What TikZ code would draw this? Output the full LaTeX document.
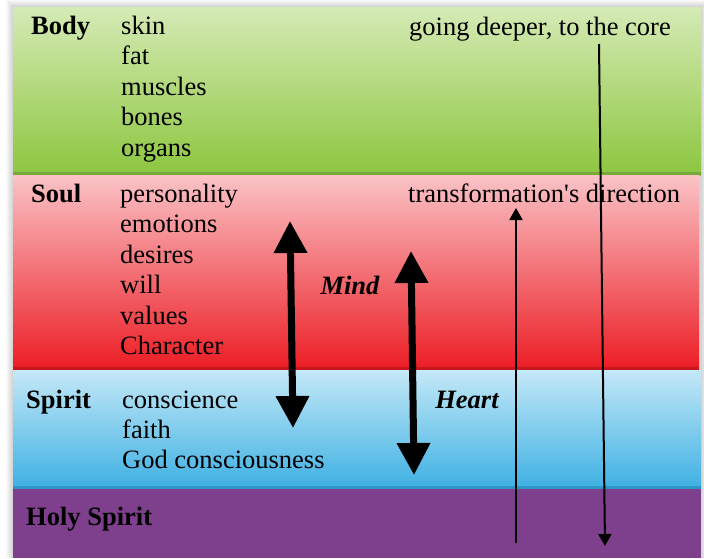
\documentclass[tikz,border=0pt]{standalone}
\usepackage{fontspec}
\setmainfont{Liberation Serif}
\usetikzlibrary{arrows.meta}
\definecolor{gtop}{HTML}{D5EAB5}
\definecolor{gbot}{HTML}{8CC63F}
\definecolor{gedge}{HTML}{78A83A}
\definecolor{rtop}{HTML}{FAC3C6}
\definecolor{rbot}{HTML}{EC1C24}
\definecolor{redge}{HTML}{C8161E}
\definecolor{btop}{HTML}{C4E8F7}
\definecolor{bbot}{HTML}{3DB0E3}
\definecolor{bedge}{HTML}{2E96C5}
\definecolor{purp}{HTML}{7E3F8C}
\tikzset{
  txt/.style={anchor=base west, inner sep=0pt, font=\fontsize{26.5}{30}\selectfont},
  lbl/.style={txt, font=\fontsize{26.5}{30}\selectfont\bfseries},
  capword/.style={inner sep=0pt, font=\fontsize{26.5}{30}\selectfont\bfseries\itshape},
  bigarrow/.style={line width=7pt, {Triangle[width=32pt,length=32pt]}-{Triangle[width=32pt,length=32pt]}},
  thinarrow/.style={line width=2pt, -{Triangle[width=13pt,length=12pt]}}
}
\begin{document}
\begin{tikzpicture}[x=1pt,y=-1pt]
\useasboundingbox (0,0) rectangle (704,558);
\fill[white] (0,0) rectangle (704,558);
% soft shadow
\foreach \i in {1,...,7}{
  \fill[black, opacity=0.025] (13-\i,7-\i) rectangle (701+\i,558);
}
% bands
\shade[top color=gtop, bottom color=gbot] (13,7) rectangle (701,175);
\fill[gedge] (13,172) rectangle (701,175);
\shade[top color=rtop, bottom color=rbot] (13,175) rectangle (699,370);
\fill[redge] (13,367) rectangle (699,370);
\shade[top color=btop, bottom color=bbot] (13,370) rectangle (701,489);
\fill[bedge] (13,486) rectangle (701,489);
\fill[purp] (13,489) rectangle (701,558);

% Body
\node[lbl] (body) at (31,34) {Body};
\node[txt] (skin) at (121,34) {skin};
\node[txt] (fat) at (121,64.5) {fat};
\node[txt] (muscles) at (121,95) {muscles};
\node[txt] (bones) at (121,125.5) {bones};
\node[txt] (organs) at (121,156) {organs};
\node[txt] (deeper) at (409,35) {going deeper, to the core};

% Soul
\node[lbl] (soul) at (31,202) {Soul};
\node[txt] (pers) at (120,202) {personality};
\node[txt] (emo) at (120,232.5) {emotions};
\node[txt] (des) at (120,263) {desires};
\node[txt] (will) at (120,293.5) {will};
\node[txt] (val) at (120,324) {values};
\node[txt] (char) at (120,354) {Character};
\node[txt] (trans) at (408,202) {transformation\textquotesingle s direction};

% Spirit
\node[lbl] (spirit) at (26,408) {Spirit};
\node[txt] (consc) at (122,408) {conscience};
\node[txt] (faith) at (122,438) {faith};
\node[txt] (god) at (122,468) {God consciousness};

% Holy Spirit
\node[lbl] (holy) at (26,525) {Holy Spirit};

% Mind / Heart
\node[capword] (mind) at (350,285) {Mind};
\node[capword] (heart) at (467,400) {Heart};

\coordinate (mindtop) at (290,221);
\coordinate (mindbot) at (293,428);
\coordinate (hearttop) at (411,251);
\coordinate (heartbot) at (414,475);
\draw[bigarrow] (mindtop) -- (mindbot);
\draw[bigarrow] (hearttop) -- (heartbot);

% thin arrows
\coordinate (upstart) at (516,543);
\coordinate (upend) at (516,208);
\coordinate (downstart) at (599,44);
\coordinate (downend) at (605,546);
\draw[thinarrow] (upstart) -- (upend);
\draw[thinarrow] (downstart) -- (downend);
\end{tikzpicture}
\end{document}
